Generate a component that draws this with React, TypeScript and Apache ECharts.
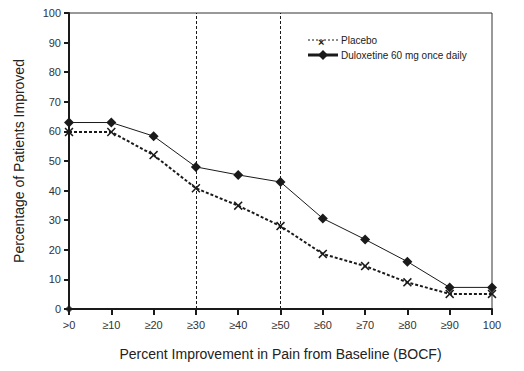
import React, { useEffect, useRef } from "react";
import * as echarts from "echarts";

const categories = [">0", "≥10", "≥20", "≥30", "≥40", "≥50", "≥60", "≥70", "≥80", "≥90", "100"];
const placebo = [59.8, 59.8, 52, 40.8, 34.9, 28, 18.6, 14.5, 9, 5.1, 5.1];
const duloxetine = [63, 63, 58.4, 48, 45.3, 42.9, 30.6, 23.5, 16, 7.3, 7.3];
const markedCategories = ["≥30", "≥50"];
const yTicks = { min: 0, max: 100, interval: 10 };

const X_SYMBOL = "path://M0,1.2L1.2,0L5,3.8L8.8,0L10,1.2L6.2,5L10,8.8L8.8,10L5,6.2L1.2,10L0,8.8L3.8,5Z";
const INK = "#1a1a1a";
const FONT = "Liberation Sans, Arial, sans-serif";

export default function App() {
  const ref = useRef<HTMLDivElement>(null);
  useEffect(() => {
    document.body.style.margin = "0";
    const chart = echarts.init(ref.current!, undefined, { renderer: "svg" });
    chart.setOption({
      animation: false,
      backgroundColor: "#fff",
      textStyle: { fontFamily: FONT },
      grid: { left: 69, top: 13, right: 32, bottom: 62, show: true, borderColor: "#333", borderWidth: 1, backgroundColor: "transparent" },
      xAxis: {
        type: "category",
        data: categories,
        boundaryGap: false,
        axisLine: { lineStyle: { color: INK, width: 2 } },
        axisTick: { alignWithLabel: true, length: 6, lineStyle: { color: INK, width: 2 } },
        axisLabel: { color: "#333", fontSize: 11, margin: 10, fontFamily: FONT },
        name: "Percent Improvement in Pain from Baseline (BOCF)",
        nameLocation: "middle",
        nameGap: 38,
        nameTextStyle: { color: "#222", fontSize: 14, fontFamily: FONT },
      },
      yAxis: {
        type: "value",
        min: yTicks.min,
        max: yTicks.max,
        interval: yTicks.interval,
        splitLine: { show: false },
        axisLine: { show: true, lineStyle: { color: INK, width: 2 } },
        axisTick: { show: true, length: 5, lineStyle: { color: INK, width: 2 } },
        axisLabel: { color: "#333", fontSize: 11, margin: 8, fontFamily: FONT },
        name: "Percentage of Patients Improved",
        nameLocation: "middle",
        nameGap: 43,
        nameTextStyle: { color: "#222", fontSize: 14, fontFamily: FONT },
      },
      series: [
        {
          name: "Placebo",
          type: "line",
          data: placebo,
          symbol: X_SYMBOL,
          symbolSize: 9,
          lineStyle: { color: INK, width: 2, type: [3, 2] },
          itemStyle: { color: INK },
          z: 3,
          markLine: {
            silent: true,
            symbol: "none",
            label: { show: false },
            lineStyle: { color: INK, width: 1, type: [3, 2] },
            data: markedCategories.map((c) => ({ xAxis: c })),
          },
        },
        {
          name: "Duloxetine 60 mg once daily",
          type: "line",
          data: duloxetine,
          symbol: "diamond",
          symbolSize: 10,
          lineStyle: { color: INK, width: 1 },
          itemStyle: { color: INK },
          z: 4,
        },
        {
          type: "scatter",
          data: [[categories[0], 0]],
          symbol: "diamond",
          symbolSize: 8,
          itemStyle: { color: INK },
          z: 5,
        },
      ],
      graphic: [
        { type: "line", shape: { x1: 308, y1: 40, x2: 338, y2: 40 }, style: { stroke: INK, lineWidth: 1, lineDash: [2, 2] } },
        { type: "text", x: 318, y: 36, style: { text: "×", fill: INK, font: "bold 11px " + FONT } },
        { type: "text", x: 341, y: 40, style: { text: "Placebo", fill: "#222", font: "10px " + FONT, textVerticalAlign: "middle" } },
        { type: "line", shape: { x1: 308, y1: 55, x2: 338, y2: 55 }, style: { stroke: INK, lineWidth: 3 } },
        { type: "polygon", shape: { points: [[323, 50], [328, 55], [323, 60], [318, 55]] }, style: { fill: INK } },
        { type: "text", x: 341, y: 55, style: { text: "Duloxetine 60 mg once daily", fill: "#222", font: "10px " + FONT, textVerticalAlign: "middle" } },
      ],
    });
    return () => chart.dispose();
  }, []);
  return <div ref={ref} style={{ width: 524, height: 371 }} />;
}
